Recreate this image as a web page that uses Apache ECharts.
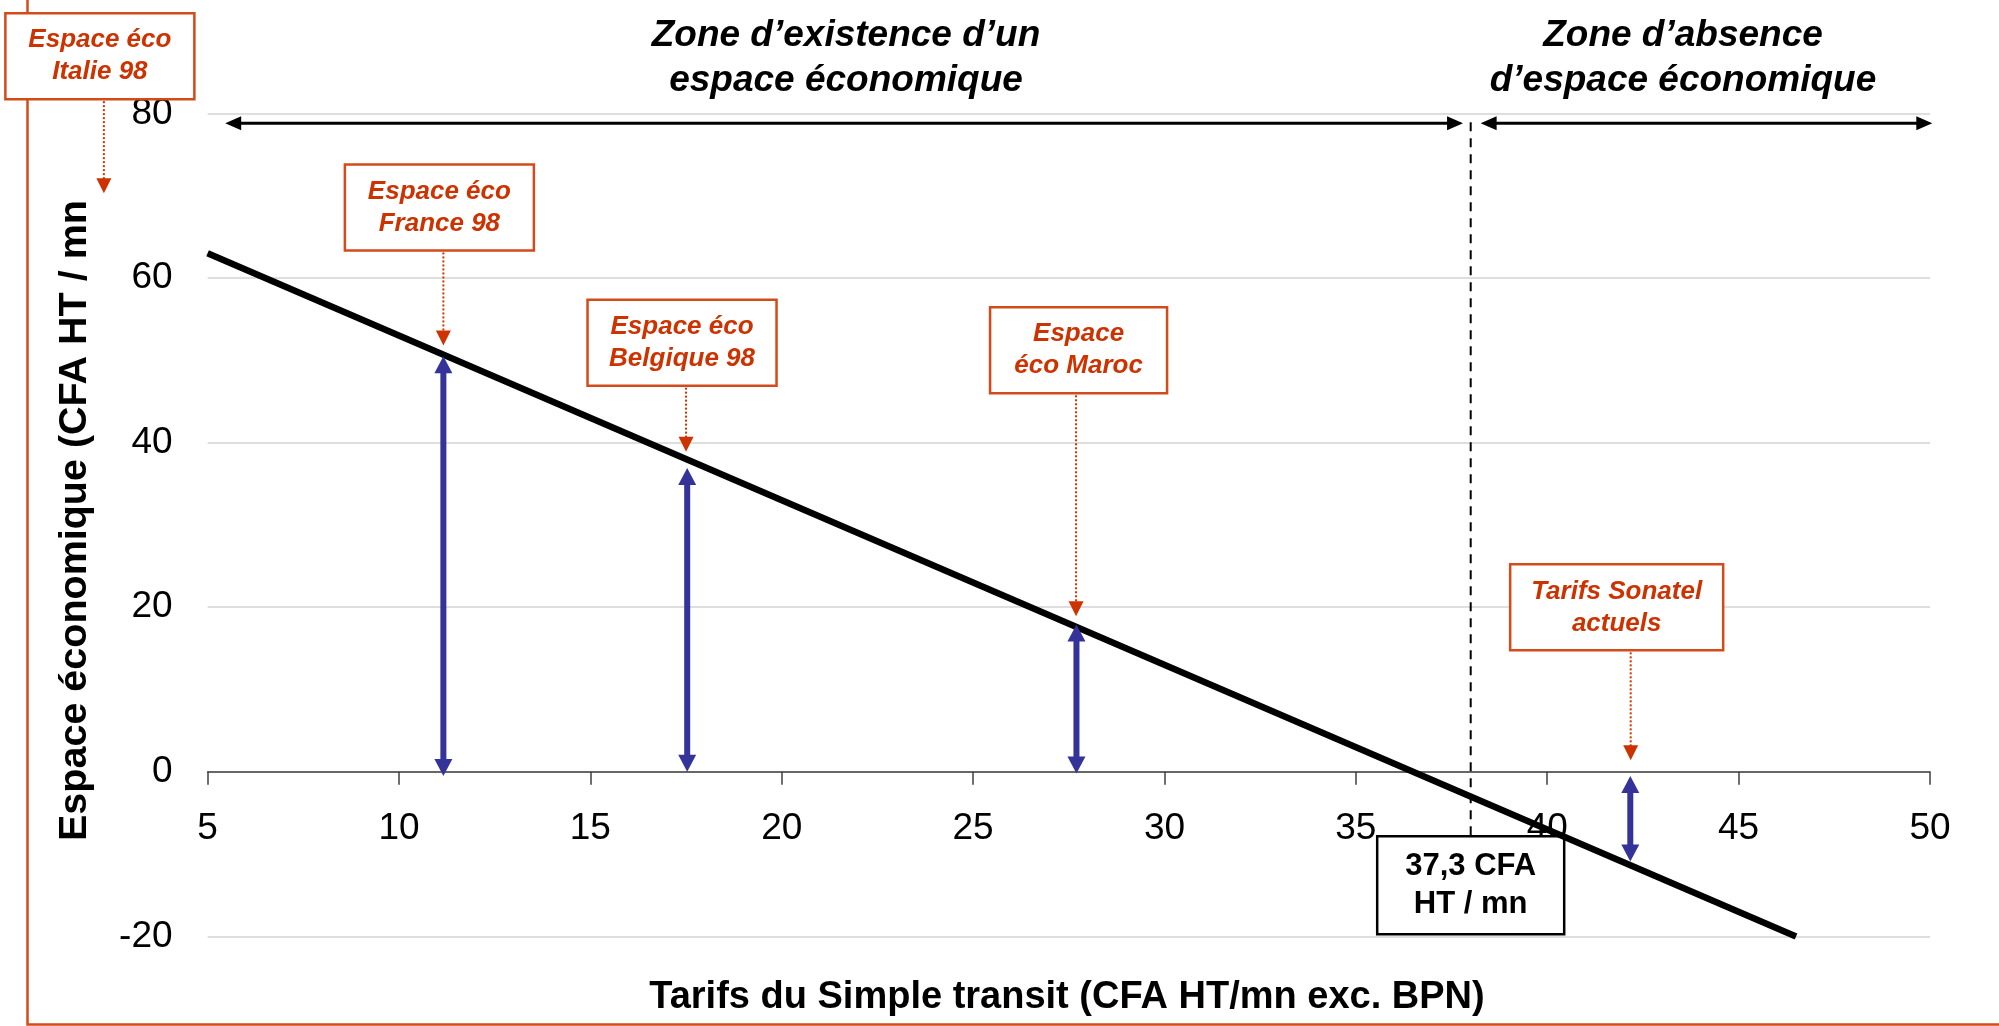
<!DOCTYPE html>
<html><head><meta charset="utf-8">
<script src="https://cdn.jsdelivr.net/npm/echarts@6/dist/echarts.min.js"></script>
<style>html,body{margin:0;padding:0;background:#fff}#c{width:1999px;height:1026px}</style>
</head><body><div id="c"></div>
<script>
// ---------- data ----------
const xTickValues = [5, 10, 15, 20, 25, 30, 35, 40, 45, 50];
const yTickValues = [-20, 0, 20, 40, 60, 80];
// straight "espace économique" line (end points)
const lineX = [5, 46.5];
const lineY = [63.0, -20];
// blue double arrows (tariff, from, to)
const arrowX = [11.16, 17.53, 27.70, 42.17];
const arrowFrom = [-0.5, 0, -0.2, -0.5];
const arrowTo = [50.5, 36.9, 17.9, -10.9];
// orange call-outs (tariff, arrow tip value)
const annText = ['Espace éco\nItalie 98', 'Espace éco\nFrance 98', 'Espace éco\nBelgique 98', 'Espace\néco Maroc', 'Tarifs Sonatel\nactuels'];
const annX = [2.29, 11.16, 17.50, 27.69, 42.18];
const annTip = [70.3, 51.8, 38.9, 18.9, 1.4];
// zones
const zoneArrowY = 78.8;
const zoneLeft = [5.46, 37.80];
const zoneRight = [38.26, 50.06];
const breakEvenX = 38.0;
const breakEvenLabel = '37,3 CFA\nHT / mn';
const zoneTitles = ['Zone d’existence d’un\nespace économique', 'Zone d’absence\nd’espace économique'];
const xTitle = 'Tarifs du Simple transit (CFA HT/mn exc. BPN)';
const yTitle = 'Espace économique (CFA HT / mn';

// ---------- layout / style (not data) ----------
const FONT = '"Liberation Sans", Arial, Helvetica, sans-serif';
const ORANGE = '#CC3300';
const ORANGE_BORDER = '#D44A1A';
const BLUE = '#333399';
const GRID = {left: 207.6, right: 69, top: 113.3, bottom: 89.5};
const CH = 1026;
const plotH = CH - GRID.top - GRID.bottom;
const yMin = yTickValues[0], yMax = yTickValues[yTickValues.length - 1];
// move the x axis (line, ticks, labels) up to the y = 0 level
const xAxisOffset = -plotH * (0 - yMin) / (yMax - yMin);

const annLayout = [
  {stem: 94, w: 189, h: 86, dx: -4},
  {stem: 95, w: 189, h: 86, dx: -4},
  {stem: 66, w: 189, h: 86, dx: -4},
  {stem: 223, w: 177, h: 86, dx: 2.5},
  {stem: 110, w: 213, h: 86, dx: -14}
];
const beBox = {top: -7.83, bottom: -19.72, w: 187};

function dblArrow(p0, p1, color, lw, hl, hw) {
  const dx = p1[0] - p0[0], dy = p1[1] - p0[1];
  const len = Math.hypot(dx, dy) || 1;
  const ux = dx / len, uy = dy / len, nx = -uy, ny = ux;
  const a = [p0[0] + ux * hl, p0[1] + uy * hl];
  const b = [p1[0] - ux * hl, p1[1] - uy * hl];
  const a2 = [p0[0] + ux * hl * 0.6, p0[1] + uy * hl * 0.6];
  const b2 = [p1[0] - ux * hl * 0.6, p1[1] - uy * hl * 0.6];
  return [
    {type: 'line', shape: {x1: a2[0], y1: a2[1], x2: b2[0], y2: b2[1]}, style: {stroke: color, lineWidth: lw}},
    {type: 'polygon', shape: {points: [p0, [a[0] + nx * hw / 2, a[1] + ny * hw / 2], [a[0] - nx * hw / 2, a[1] - ny * hw / 2]]}, style: {fill: color}},
    {type: 'polygon', shape: {points: [p1, [b[0] + nx * hw / 2, b[1] + ny * hw / 2], [b[0] - nx * hw / 2, b[1] - ny * hw / 2]]}, style: {fill: color}}
  ];
}

const chart = echarts.init(document.getElementById('c'), null, {renderer: 'canvas'});
const option = {
  animation: false,
  backgroundColor: '#fff',
  grid: {left: GRID.left, right: GRID.right, top: GRID.top, bottom: GRID.bottom, containLabel: false, outerBoundsMode: 'none'},
  xAxis: {
    type: 'value', min: xTickValues[0], max: xTickValues[xTickValues.length - 1], interval: 5,
    offset: xAxisOffset,
    axisLine: {onZero: false, lineStyle: {color: '#404040', width: 1.5}},
    axisTick: {show: true, length: 13, lineStyle: {color: '#404040', width: 1.5}},
    axisLabel: {margin: 38, fontSize: 37, color: '#000', fontFamily: FONT},
    splitLine: {show: false}
  },
  yAxis: {
    type: 'value', min: yMin, max: yMax, interval: 20,
    axisLine: {show: false}, axisTick: {show: false},
    axisLabel: {margin: 35, fontSize: 37, color: '#000', fontFamily: FONT},
    splitLine: {lineStyle: {color: '#D3D3D3', width: 1.5}}
  },
  graphic: [
    {type: 'rect', shape: {x: 27.5, y: -10, width: 2100, height: 1034.5}, style: {fill: 'none', stroke: ORANGE_BORDER, lineWidth: 2.5}, z: 0},
    {type: 'text', x: 846, y: 58, style: {text: zoneTitles[0], font: 'italic bold 37px ' + FONT, fill: '#000', align: 'center', verticalAlign: 'middle', lineHeight: 45}},
    {type: 'text', x: 1683, y: 58, style: {text: zoneTitles[1], font: 'italic bold 37px ' + FONT, fill: '#000', align: 'center', verticalAlign: 'middle', lineHeight: 45}},
    {type: 'text', x: 1067, y: 998, style: {text: xTitle, font: 'bold 38px ' + FONT, fill: '#000', align: 'center', verticalAlign: 'middle'}},
    {type: 'text', x: 75, y: 841, rotation: Math.PI / 2, style: {text: yTitle, font: 'bold 39.5px ' + FONT, fill: '#000', align: 'left', verticalAlign: 'middle'}}
  ],
  series: [
    {
      type: 'custom', coordinateSystem: 'cartesian2d', silent: true, z: 3, clip: false,
      data: [[zoneLeft[0], zoneLeft[1], zoneArrowY], [zoneRight[0], zoneRight[1], zoneArrowY]],
      encode: {x: [0, 1], y: 2},
      renderItem: function (params, api) {
        const p0 = api.coord([api.value(0), api.value(2)]);
        const p1 = api.coord([api.value(1), api.value(2)]);
        return {type: 'group', children: dblArrow(p0, p1, '#000', 3, 16, 14)};
      }
    },
    {
      type: 'custom', coordinateSystem: 'cartesian2d', silent: true, z: 3, clip: false,
      data: [[breakEvenX, zoneArrowY]],
      encode: {x: 0, y: 1},
      renderItem: function (params, api) {
        const x = api.value(0);
        const pTop = api.coord([x, api.value(1)]);
        const pBoxT = api.coord([x, beBox.top]);
        const pBoxB = api.coord([x, beBox.bottom]);
        return {type: 'group', children: [
          {type: 'line', shape: {x1: pTop[0], y1: pTop[1] - 1, x2: pTop[0], y2: pBoxT[1]}, style: {stroke: '#000', lineWidth: 2, lineDash: [9, 7]}},
          {type: 'rect', shape: {x: pTop[0] - beBox.w / 2, y: pBoxT[1], width: beBox.w, height: pBoxB[1] - pBoxT[1]}, style: {fill: '#fff', stroke: '#000', lineWidth: 2.5}},
          {type: 'text', style: {text: breakEvenLabel, x: pTop[0], y: (pBoxT[1] + pBoxB[1]) / 2, align: 'center', verticalAlign: 'middle', font: 'bold 31px ' + FONT, fill: '#000', lineHeight: 38}}
        ]};
      }
    },
    {
      type: 'line', z: 4, silent: true, symbol: 'none',
      data: lineX.map((x, i) => [x, lineY[i]]),
      lineStyle: {color: '#000', width: 6.5}
    },
    {
      type: 'custom', coordinateSystem: 'cartesian2d', silent: true, z: 5, clip: false,
      data: arrowX.map((x, i) => [x, arrowFrom[i], arrowTo[i]]),
      encode: {x: 0, y: [1, 2]},
      renderItem: function (params, api) {
        const x = api.value(0);
        const p0 = api.coord([x, api.value(1)]);
        const p1 = api.coord([x, api.value(2)]);
        return {type: 'group', children: dblArrow(p0, p1, BLUE, 6, 17, 18)};
      }
    },
    {
      type: 'custom', coordinateSystem: 'cartesian2d', silent: true, z: 6, clip: false,
      data: annX.map((x, i) => [x, annTip[i]]),
      encode: {x: 0, y: 1},
      renderItem: function (params, api) {
        const i = params.dataIndex;
        const L = annLayout[i];
        const p = api.coord([api.value(0), api.value(1)]);
        const boxB = p[1] - L.stem;
        const boxT = boxB - L.h;
        const cx = p[0] + L.dx;
        return {type: 'group', children: [
          {type: 'rect', shape: {x: cx - L.w / 2, y: boxT, width: L.w, height: L.h}, style: {fill: '#fff', stroke: ORANGE_BORDER, lineWidth: 2.5}},
          {type: 'text', style: {text: annText[i], x: cx, y: boxT + L.h / 2, align: 'center', verticalAlign: 'middle', font: 'italic bold 26px ' + FONT, fill: ORANGE, lineHeight: 32}},
          {type: 'line', shape: {x1: p[0], y1: boxB + 2, x2: p[0], y2: p[1] - 14}, style: {stroke: ORANGE, lineWidth: 2, lineDash: [2, 2]}},
          {type: 'polygon', shape: {points: [[p[0] - 7.5, p[1] - 15], [p[0] + 7.5, p[1] - 15], [p[0], p[1]]]}, style: {fill: ORANGE}}
        ]};
      }
    }
  ]
};
chart.setOption(option);
</script>
</body></html>
